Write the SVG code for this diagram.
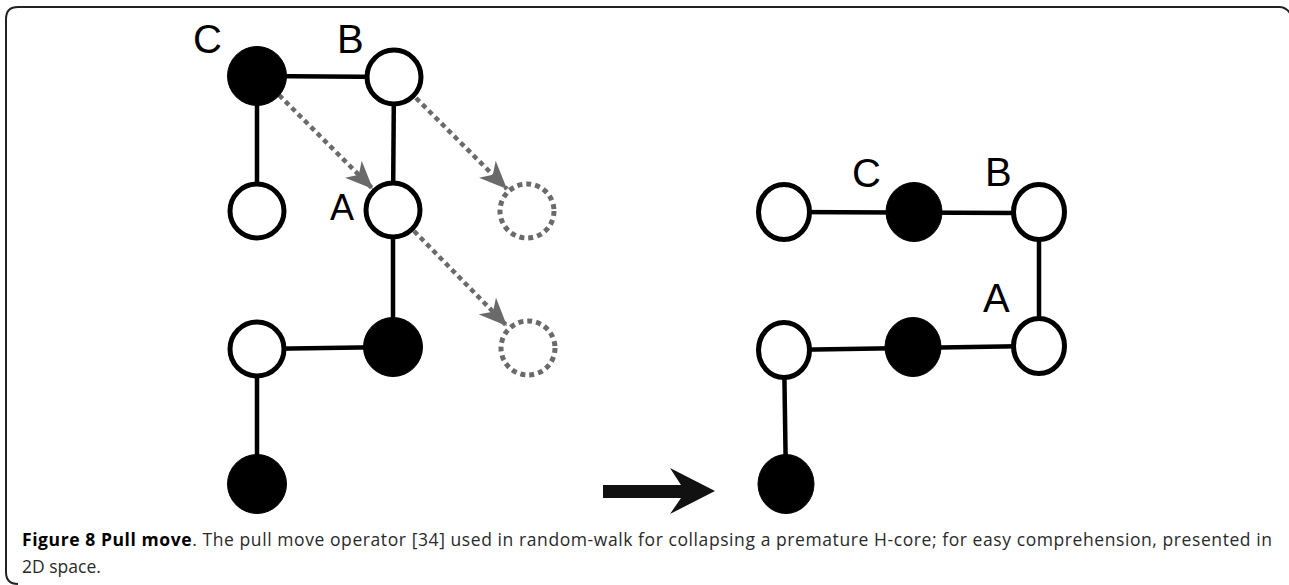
<svg xmlns="http://www.w3.org/2000/svg" width="1289" height="585" viewBox="0 0 1289 585">
<style>
.edge{stroke:#000;stroke-width:4.5;fill:none}
.wn{fill:#fff;stroke:#000;stroke-width:5}
.bn{fill:#000;stroke:#000;stroke-width:1}
.dn{fill:none;stroke:#6a6a6a;stroke-width:5;stroke-dasharray:5 4}
.da{stroke:#6a6a6a;stroke-width:4.5;stroke-dasharray:5 4;fill:none}
.lbl{font-family:"Liberation Sans",Arial,sans-serif;font-size:40px;fill:#000}
.cap{font-family:"Open Sans","Noto Sans",sans-serif;font-size:17.5px;fill:#2a2a2a}
</style>
<defs>
<marker id="ah" viewBox="0 0 28 24" refX="28" refY="12" markerWidth="28" markerHeight="24" markerUnits="userSpaceOnUse" orient="auto">
<path d="M0,0 L28,12 L0,24 L8,12 Z" fill="#6a6a6a"/>
</marker>
</defs>
<path d="M18 584 Q6 584 6 572 L6 19 Q6 7 18 7 L1279 7 Q1287 7 1291 15" fill="none" stroke="#222" stroke-width="2"/>
<g id="connectors">
<line class="edge" x1="257" y1="76" x2="394" y2="77"/>
<line class="edge" x1="257" y1="76" x2="257" y2="211"/>
<line class="edge" x1="394" y1="77" x2="393" y2="210"/>
<line class="edge" x1="393" y1="210" x2="393" y2="347"/>
<line class="edge" x1="393" y1="347" x2="257" y2="349"/>
<line class="edge" x1="257" y1="349" x2="257" y2="484"/>
<line class="da" x1="279" y1="95" x2="373" y2="189" marker-end="url(#ah)"/>
<line class="da" x1="416" y1="98" x2="507" y2="189" marker-end="url(#ah)"/>
<line class="da" x1="414" y1="231" x2="507" y2="326" marker-end="url(#ah)"/>
<line class="edge" x1="784" y1="212" x2="1039" y2="213"/>
<line class="edge" x1="1039" y1="213" x2="1039" y2="346"/>
<line class="edge" x1="1039" y1="346" x2="784" y2="350"/>
<line class="edge" x1="784" y1="350" x2="786" y2="484"/>
<polygon points="603,485 681,485 670,468 715,491 670,514 681,498 603,498" fill="#111"/>
</g>
<g id="left-C"><circle class="bn" cx="257" cy="76" r="29.5"/><text class="lbl" x="193" y="53">C</text></g>
<g id="left-B"><circle class="wn" cx="394" cy="77" r="27"/><text class="lbl" x="337" y="53">B</text></g>
<g id="left-n3"><circle class="wn" cx="257" cy="211" r="27"/></g>
<g id="left-A"><circle class="wn" cx="393" cy="210" r="27"/><text class="lbl" x="330" y="220" style="font-size:36px">A</text></g>
<g id="left-n5"><circle class="bn" cx="393" cy="347" r="29.5"/></g>
<g id="left-n6"><circle class="wn" cx="257" cy="349" r="27"/></g>
<g id="left-n7"><circle class="bn" cx="257" cy="484" r="29.5"/></g>
<g id="ghost-1"><circle class="dn" cx="527" cy="211" r="27"/></g>
<g id="ghost-2"><circle class="dn" cx="528" cy="348" r="27"/></g>
<g id="right-n1"><ellipse class="wn" cx="784" cy="212" rx="25.5" ry="27.5"/></g>
<g id="right-C"><ellipse class="bn" cx="914" cy="212" rx="28" ry="29.5"/><text class="lbl" x="852" y="187">C</text></g>
<g id="right-B"><ellipse class="wn" cx="1039" cy="212" rx="25.5" ry="27.5"/><text class="lbl" x="985" y="186">B</text></g>
<g id="right-A"><ellipse class="wn" cx="1039" cy="346" rx="25.5" ry="27.5"/><text class="lbl" x="983" y="312">A</text></g>
<g id="right-n5"><ellipse class="bn" cx="913" cy="347" rx="28" ry="29.5"/></g>
<g id="right-n6"><ellipse class="wn" cx="784" cy="350" rx="25.5" ry="27.5"/></g>
<g id="right-n7"><ellipse class="bn" cx="786" cy="484" rx="28" ry="29.5"/></g>
<g id="caption">
<text class="cap" x="22" y="546" textLength="1250" lengthAdjust="spacing"><tspan font-weight="bold" fill="#000">Figure 8 Pull move</tspan>. The pull move operator [34] used in random-walk for collapsing a premature H-core; for easy comprehension, presented in</text>
<text class="cap" x="22" y="573">2D space.</text>
</g>
</svg>
